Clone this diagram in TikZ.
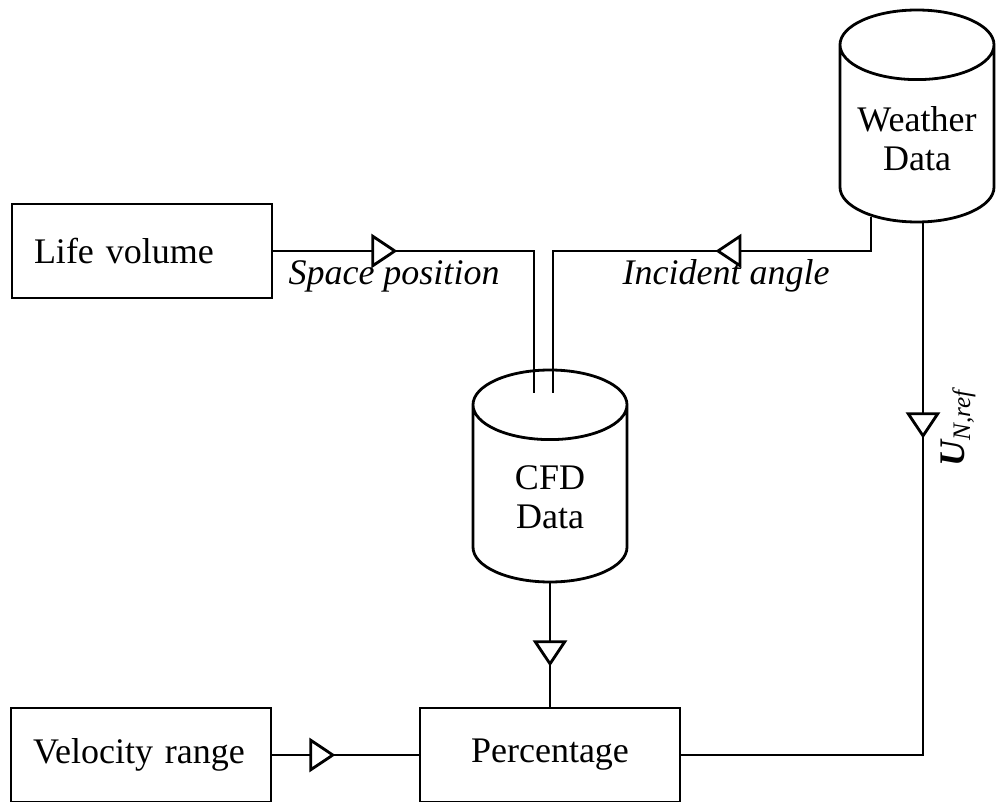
\documentclass[tikz,border=0pt]{standalone}
\usepackage{fontspec}
\setmainfont{Liberation Serif}
\usetikzlibrary{arrows.meta,shapes.geometric,decorations.markings}
\tikzset{
  block/.style={draw, line width=1.4pt, minimum width=130pt, minimum height=47pt,
    font=\fontsize{18}{20}\selectfont},
  inblock/.style={block, text width=108pt, align=left, inner xsep=11pt},
  store/.style={draw, line width=1.4pt, cylinder, shape border rotate=90, aspect=0.9,
    text width=32pt, minimum width=77pt, minimum height=106pt, anchor=shape center},
  storetext/.style={align=center, font=\fontsize{18}{19.5}\selectfont},
  flow/.style={line width=1.4pt, postaction={decorate},
    decoration={markings, mark=at position #1 with
      {\arrow{Triangle[fill=white,length=13pt,width=17pt]}}}},
  tag/.style={font=\fontsize{18}{20}\selectfont\itshape}
}
\begin{document}
\begin{tikzpicture}[x=0.5pt,y=-0.5pt]
  \useasboundingbox (0,0) rectangle (997,802);
  % boxes and stores
  \node[inblock] (life) at (142,251) {Life volume};
  \node[inblock] (velo) at (141,755) {Velocity range};
  \node[block] (perc) at (550,755) {Percentage};
  \node[store] (cfd) at (550,476) {};
  \node[store] (wthr) at (917,116) {};
  \node[storetext] (cfdtext) at ([yshift=-10.75pt]cfd.shape center) {CFD\\Data};
  \node[storetext] (wthrtext) at ([yshift=-11.25pt]wthr.shape center) {Weather\\Data};
  % ends of the flows
  \coordinate (cfdl) at ([xshift=-8pt,yshift=-12pt]cfd.top);
  \coordinate (cfdr) at ([xshift=1.5pt,yshift=-12pt]cfd.top);
  \coordinate (wthrl) at ([xshift=-23pt,yshift=3.4pt]wthr.bottom);
  \coordinate (wthrr) at ([xshift=3pt]wthr.bottom);
  % flows
  \draw[flow=62pt] (life.east) -| (cfdl);
  \draw[flow=95pt] (wthrl) |- (cfdr |- life.east) -- (cfdr);
  \draw[flow=107.5pt] (wthrr) |- (perc.east);
  \draw[flow=41.5pt] (cfd.bottom) -- (perc.north);
  \draw[flow=31.5pt] (velo.east) -- (perc.west);
  % labels
  \node[tag] (space) at (394,276) {Space position};
  \node[tag] (angle) at (726,276) {Incident angle};
  \node[tag, rotate=90] (uref) at (958,428) {\textbf{U}\textsubscript{N,ref}};
\end{tikzpicture}
\end{document}
